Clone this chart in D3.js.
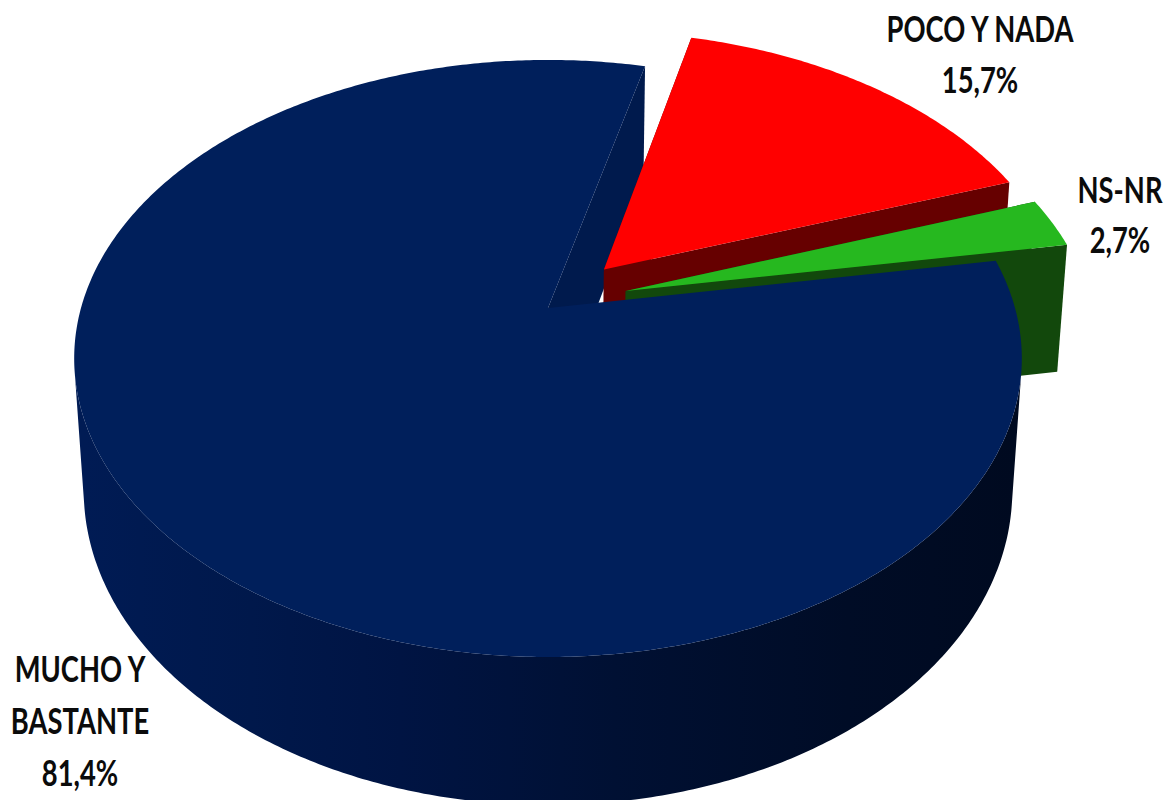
<!DOCTYPE html>
<html>
<head>
<meta charset="utf-8">
<script src="https://cdnjs.cloudflare.com/ajax/libs/d3/7.8.5/d3.min.js"></script>
<style>
    html, body { margin: 0; padding: 0; background: #fff; }
    svg { display: block; }
    text { font-family: Lato, "Noto Sans", sans-serif; font-weight: 700; fill: #0b0b0b; }
</style>
</head>
<body>
<svg id="chart" width="1166" height="800"></svg>
<script>
const categories = ["POCO Y NADA", "NS-NR", "MUCHO Y BASTANTE"];
const values = [15.7, 2.7, 81.4];
const valueLabels = ["15,7%", "2,7%", "81,4%"];

const colors = {
    "POCO Y NADA": {top: "#ff0000", wall: "#660000"},
    "NS-NR": {top: "#26b81f", wall: "#12480c"},
    "MUCHO Y BASTANTE": {top: "#001f5b", wall: "#001a4d"}
};

// how far each slice is pulled out, in disc units
const explodeOffset = {
    "POCO Y NADA": [0.1225, -0.136],
    "NS-NR": [0.168, -0.059],
    "MUCHO Y BASTANTE": [0, 0]
};

// label lines and where they sit, by category
const labelLayout = {
    "POCO Y NADA": {x: 980, y: 42, step: 51, lines: ["POCO Y NADA"]},
    "NS-NR": {x: 1120, y: 203, step: 50, lines: ["NS-NR"]},
    "MUCHO Y BASTANTE": {x: 80, y: 682, step: 52, lines: ["MUCHO Y", "BASTANTE"]}
};

const svg = d3.select("#chart");

// side shading, lighter at the left, almost black at the right
const grad = svg.append("defs").append("linearGradient")
    .attr("id", "sideGrad")
    .attr("gradientUnits", "userSpaceOnUse")
    .attr("x1", 84).attr("x2", 1015).attr("y1", 0).attr("y2", 0);
grad.selectAll("stop")
    .data([[0, "#001b54"], [0.18, "#00184b"], [0.34, "#001443"], [0.57, "#001033"], [0.82, "#000c26"], [1, "#000a20"]])
    .join("stop")
    .attr("offset", d => d[0])
    .attr("stop-color", d => d[1]);

// perspective of the disc: x0,y0 is the centre of the top face
const x0 = 548, y0 = 308;
const radiusX = 467, radiusY = 290;
const persp = 0.169;      // how much closer the front edge is
const depth = 133;        // height of the pie on screen
const depthPersp = 0.02;  // bottom face is a little smaller

function project(u, v, z)
{
    const w = 1 - persp * v + depthPersp * z;
    return [x0 + radiusX * u / w, y0 + (radiusY * v + depth * z) / w];
}

function discPoint(slice, angle, r, z)
{
    const off = explodeOffset[slice.data.category];
    return project(off[0] + r * Math.sin(angle), off[1] - r * Math.cos(angle), z);
}

const pie = d3.pie()
    .sort(null)
    .value(d => d.value)
    .startAngle(14 * Math.PI / 180)
    .endAngle(374 * Math.PI / 180);

const slices = pie(categories.map((c, i) => ({
    category: c,
    value: values[i],
    label: valueLabels[i]
})));

const line = d3.line();

function arcAngles(a, b)
{
    const n = Math.max(2, Math.ceil((b - a) / 0.01));
    return d3.range(n + 1).map(i => a + (b - a) * i / n);
}

function topFace(s)
{
    const pts = arcAngles(s.startAngle, s.endAngle).map(a => discPoint(s, a, 1, 0));
    return line([discPoint(s, 0, 0, 0), ...pts]) + "Z";
}

// outer rim, only the part that faces the viewer
function sideFace(s)
{
    const angles = arcAngles(s.startAngle, s.endAngle);
    const front = angles.filter((a, i) =>
    {
        const b = angles[i + 1];
        if (b === undefined) return false;
        return d3.polygonArea([
            discPoint(s, a, 1, 0), discPoint(s, b, 1, 0),
            discPoint(s, b, 1, 1), discPoint(s, a, 1, 1)
        ]) > 0;
    });
    if (front.length < 2) return null;
    const upper = front.map(a => discPoint(s, a, 1, 0));
    const lower = front.slice().reverse().map(a => discPoint(s, a, 1, 1));
    return line([...upper, ...lower]) + "Z";
}

function wall(s, angle)
{
    return line([
        discPoint(s, 0, 0, 0),
        discPoint(s, angle, 1, 0),
        discPoint(s, angle, 1, 1),
        discPoint(s, 0, 0, 1)
    ]) + "Z";
}

const red = slices[0], green = slices[1], blue = slices[2];

const g = svg.append("g");

function drawPath(d, fill)
{
    if (d) g.append("path").attr("d", d).attr("fill", fill);
}

// painted back to front
drawPath(wall(blue, blue.endAngle), colors[blue.data.category].wall);

[red, green].forEach(s =>
{
    const c = colors[s.data.category];
    drawPath(sideFace(s), c.wall);
    drawPath(wall(s, s.startAngle), c.wall);
    drawPath(wall(s, s.endAngle), c.wall);
    drawPath(topFace(s), c.top);
});

drawPath(sideFace(blue), "url(#sideGrad)");
drawPath(topFace(blue), colors[blue.data.category].top);

// labels, squeezed sideways because the original face is a narrow one
slices.forEach(s =>
{
    const lay = labelLayout[s.data.category];
    [...lay.lines, s.data.label].forEach((t, i) =>
    {
        svg.append("text")
            .attr("transform", `translate(${lay.x},${lay.y + i * lay.step}) scale(0.76,1)`)
            .attr("text-anchor", "middle")
            .attr("font-size", 36)
            .text(t);
    });
});
</script>
</body>
</html>
